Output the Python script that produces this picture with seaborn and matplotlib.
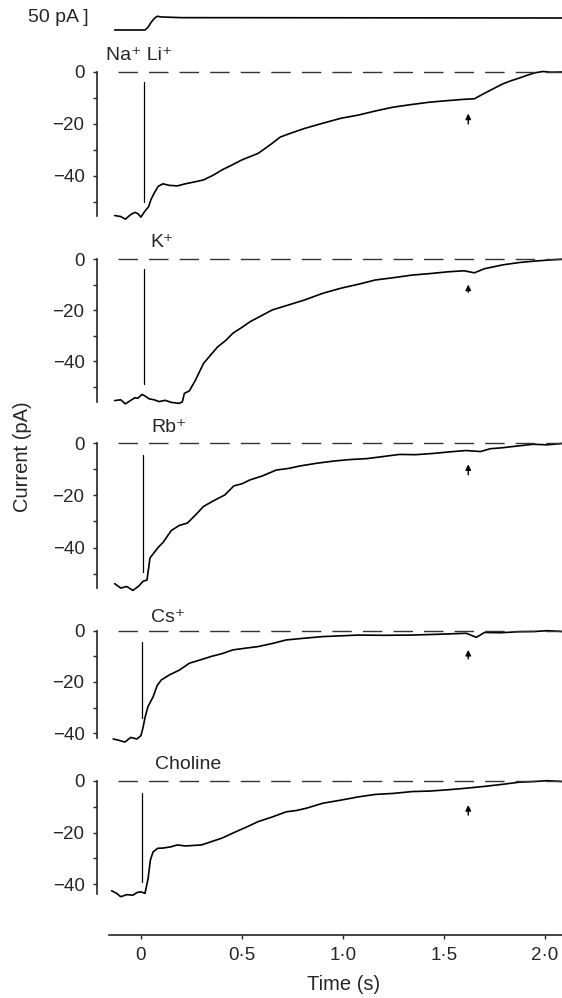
import matplotlib
matplotlib.use("Agg")
import matplotlib.pyplot as plt
import pandas as pd
import seaborn as sns

# ---- data (time in s, current in pA) ----
stim_t = [-0.13, 0.02, 0.035, 0.05, 0.065, 0.08, 0.10, 0.20, 2.084]
stim_v = [0, 0, 8, 22, 33, 40, 38, 36, 35]

na_t = [-0.13, -0.10, -0.077, -0.05, -0.03, -0.015, 0.0, 0.02, 0.038, 0.05, 0.065, 0.085,
        0.109, 0.14, 0.18, 0.22, 0.27, 0.31, 0.36, 0.40, 0.45, 0.50, 0.58, 0.64, 0.69,
        0.75, 0.81, 0.90, 0.99, 1.08, 1.16, 1.25, 1.34, 1.43, 1.52, 1.60, 1.65, 1.70,
        1.75, 1.79, 1.83, 1.87, 1.91, 1.95, 1.99, 2.03, 2.084]
na_v = [-55.2, -55.6, -56.6, -54.8, -54.0, -54.5, -55.8, -53.5, -51.8, -49.0, -46.7, -44.0,
        -43.0, -43.6, -43.8, -43.0, -42.2, -41.5, -39.6, -37.7, -35.8, -33.8, -31.3, -28.0,
        -25.0, -23.3, -21.7, -19.7, -17.8, -16.5, -15.0, -13.5, -12.5, -11.6, -11.0, -10.5,
        -10.3, -8.2, -6.2, -4.6, -3.4, -2.4, -1.3, -0.3, 0.2, -0.1, 0.0]

k_t = [-0.13, -0.10, -0.077, -0.05, -0.03, -0.015, 0.005, 0.02, 0.04, 0.065, 0.09, 0.12,
       0.15, 0.19, 0.205, 0.215, 0.24, 0.27, 0.29, 0.31, 0.345, 0.38, 0.42, 0.455, 0.50,
       0.54, 0.60, 0.65, 0.72, 0.81, 0.90, 0.99, 1.08, 1.16, 1.25, 1.34, 1.43, 1.52, 1.60,
       1.65, 1.70, 1.79, 1.87, 1.95, 2.02, 2.084]
k_v = [-55.3, -55.0, -56.6, -55.2, -54.2, -54.4, -52.9, -53.5, -54.6, -55.0, -55.7, -55.2,
       -56.0, -56.4, -55.8, -52.5, -51.5, -47.3, -44.0, -40.8, -37.5, -34.3, -31.8, -29.0,
       -26.7, -24.5, -22.0, -19.9, -18.2, -16.0, -13.4, -11.4, -9.8, -8.2, -7.3, -6.3, -5.7,
       -5.0, -4.6, -5.4, -3.8, -2.3, -1.4, -0.8, -0.4, -0.1]

rb_t = [-0.13, -0.10, -0.07, -0.04, -0.01, 0.01, 0.03, 0.045, 0.065, 0.085, 0.11, 0.15,
        0.19, 0.23, 0.27, 0.31, 0.36, 0.415, 0.46, 0.50, 0.54, 0.60, 0.67, 0.73, 0.79, 0.87,
        0.95, 1.03, 1.12, 1.20, 1.28, 1.36, 1.45, 1.53, 1.61, 1.68, 1.73, 1.78, 1.86, 1.94,
        2.01, 2.084]
rb_v = [-53.9, -55.6, -55.0, -56.5, -54.8, -53.0, -52.5, -44.0, -42.0, -40.0, -38.0, -33.5,
        -31.5, -30.6, -27.5, -24.2, -22.0, -19.8, -16.3, -15.5, -14.0, -12.5, -10.2, -9.6,
        -8.6, -7.6, -6.8, -6.2, -5.8, -5.0, -4.2, -4.3, -3.8, -3.2, -2.7, -3.1, -2.0, -1.7,
        -1.0, -0.3, -0.5, 0.0]

cs_t = [-0.137, -0.11, -0.08, -0.05, -0.02, 0.0, 0.01, 0.02, 0.035, 0.06, 0.08, 0.1, 0.14,
        0.19, 0.24, 0.29, 0.35, 0.40, 0.455, 0.52, 0.58, 0.65, 0.72, 0.80, 0.90, 0.99, 1.08,
        1.20, 1.34, 1.47, 1.61, 1.66, 1.70, 1.78, 1.87, 1.95, 2.01, 2.084]
cs_v = [-42.3, -42.8, -43.5, -41.7, -42.3, -41.0, -38.0, -34.0, -29.6, -25.9, -21.5, -19.3,
        -17.3, -15.4, -12.7, -11.5, -10.0, -9.0, -7.5, -6.8, -6.2, -5.0, -3.6, -3.0, -2.3,
        -2.0, -1.7, -1.8, -1.7, -1.4, -1.0, -2.6, -0.7, -0.8, -0.4, -0.3, 0.0, -0.3]

ch_t = [-0.145, -0.12, -0.10, -0.07, -0.04, -0.02, 0.0, 0.02, 0.035, 0.047, 0.06, 0.083,
        0.11, 0.15, 0.18, 0.22, 0.26, 0.30, 0.35, 0.40, 0.47, 0.52, 0.58, 0.65, 0.72, 0.77,
        0.82, 0.90, 0.99, 1.08, 1.16, 1.25, 1.34, 1.43, 1.52, 1.61, 1.70, 1.79, 1.87, 1.95,
        2.01, 2.084]
ch_v = [-42.5, -43.5, -44.8, -44.0, -44.2, -43.2, -42.9, -43.5, -38.0, -30.6, -27.5, -26.1,
        -26.0, -25.5, -24.8, -25.2, -25.0, -24.8, -23.5, -22.2, -19.7, -18.0, -15.8, -14.0,
        -12.0, -11.5, -10.6, -8.7, -7.5, -6.2, -5.3, -4.9, -4.2, -4.0, -3.5, -2.9, -2.2,
        -1.4, -0.6, -0.3, 0.0, -0.3]

labels = ["Na\u207a Li\u207a", "K\u207a", "Rb\u207a", "Cs\u207a", "Choline"]
traces = [(na_t, na_v), (k_t, k_v), (rb_t, rb_v), (cs_t, cs_v), (ch_t, ch_v)]

# solution-change marker (vertical bar) and arrow, per panel
marker_t = [0.015, 0.015, 0.008, 0.005, 0.003]
marker_top = [-4.0, -4.0, -4.6, -4.6, -4.8]
marker_bottom = [-50.0, -49.0, -49.5, -34.0, -39.0]
arrow_t = 1.62
arrow_tail = [-20.0, -13.0, -12.0, -11.0, -13.3]
arrow_head = [-16.0, -10.0, -8.0, -7.5, -9.4]

# ---- layout (pixels on a 562x998 canvas) ----
W, H = 562, 998
X0, X1 = 109, 562
XLIM = (-0.158, 2.084)
zero_px = [72, 259, 443.5, 630.7, 780.7]
px_per_pA = [2.6, 2.56, 2.6, 2.56, 2.59]
ymins = [-57.5, -57.5, -57.5, -44.5, -45.5]
spine_lo = [-55.5, -55.7, -55.4, -42.0, -43.7]
YMAX = 3.0
label_pos = [(-0.173, 6.5), (0.047, 6.6), (0.054, 6.0), (0.05, 5.0), (0.069, 6.1)]

sns.set_style("white")
plt.rcParams["font.family"] = ["Liberation Sans", "DejaVu Sans"]

fig = plt.figure(figsize=(W / 100, H / 100), dpi=100)


def add_px_axes(top, bottom):
    return fig.add_axes([X0 / W, 1 - bottom / H, (X1 - X0) / W, (bottom - top) / H])


# top stimulus trace
ax_s = add_px_axes(10, 35)
sns.lineplot(x=stim_t, y=stim_v, ax=ax_s, color="black", lw=1.2, sort=False)
ax_s.set_xlim(XLIM)
ax_s.set_ylim(-14.6, 58.3)
ax_s.axis("off")
fig.text(28 / W, 1 - 18 / H, "50 pA ]", fontsize=14, va="center", ha="left")

for i, (t, v) in enumerate(traces):
    ymin = ymins[i]
    top = zero_px[i] - YMAX * px_per_pA[i]
    bottom = zero_px[i] - ymin * px_per_pA[i]
    ax = add_px_axes(top, bottom)
    df = pd.DataFrame({"time": t, "current": v})
    sns.lineplot(data=df, x="time", y="current", ax=ax, color="black", lw=1.2, sort=False)
    ax.plot([-0.115, XLIM[1]], [0, 0], color="#333333", lw=1.0, dashes=(14, 8))
    ax.plot([marker_t[i], marker_t[i]], [marker_top[i], marker_bottom[i]], color="black", lw=0.9)
    ax.annotate("", xy=(arrow_t, arrow_head[i]), xytext=(arrow_t, arrow_tail[i]),
                arrowprops=dict(arrowstyle="-|>", color="black", lw=1.0, mutation_scale=8,
                                shrinkA=0, shrinkB=0))
    ax.text(label_pos[i][0], label_pos[i][1], labels[i], fontsize=14, ha="left",
            va="center", clip_on=False)
    ax.set_xlim(XLIM)
    ax.set_ylim(ymin, YMAX)
    ax.set_xlabel("")
    ax.set_ylabel("")
    sns.despine(ax=ax, top=True, right=True)
    ax.spines["left"].set_position(("outward", 8.6))
    ax.spines["left"].set_bounds(spine_lo[i], 0)
    ax.spines["left"].set_linewidth(1.2)
    ax.set_yticks([0, -20, -40])
    ax.set_yticklabels(["0", "\u221220", "\u221240"])
    minor = [m for m in [-10, -30, -50] if m >= spine_lo[i]]
    ax.set_yticks(minor, minor=True)
    ax.tick_params(axis="y", which="both", direction="out", length=3, width=1.0,
                   pad=6, labelsize=13.5, left=True)
    if i < 4:
        ax.spines["bottom"].set_visible(False)
        ax.set_xticks([])
    else:
        ax.spines["bottom"].set_position(("outward", (935 - bottom) * 0.72))
        ax.spines["bottom"].set_linewidth(1.2)
        ax.set_xticks([0, 0.5, 1.0, 1.5, 2.0])
        ax.set_xticklabels(["0", "0\u00b75", "1\u00b70", "1\u00b75", "2\u00b70"])
        ax.tick_params(axis="x", direction="out", length=3, width=1.0, pad=6,
                       labelsize=13.5, bottom=True)

fig.text(23 / W, 1 - 457 / H, "Current (pA)", rotation=90, fontsize=14.5,
         ha="center", va="center")
fig.text(344 / W, 1 - 985 / H, "Time (s)", fontsize=14.5, ha="center", va="center")

fig.savefig("out.png", dpi=100)
